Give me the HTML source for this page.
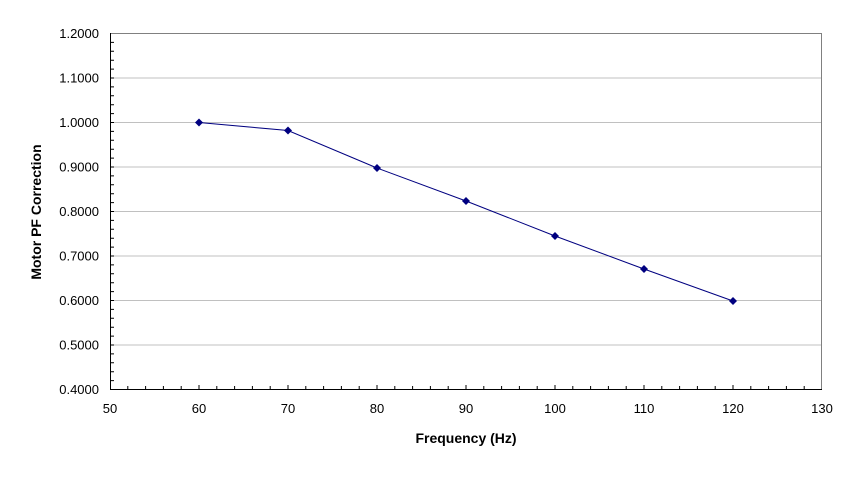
<!DOCTYPE html>
<html><head><meta charset="utf-8"><style>
body{margin:0;background:#fff}
text{font-family:"Liberation Sans",Arial,sans-serif;font-size:13px;fill:#000}
</style></head><body>
<svg width="857" height="478" xmlns="http://www.w3.org/2000/svg">
<g stroke="#c0c0c0" stroke-width="1">
<line x1="110" y1="33.5" x2="822" y2="33.5" stroke="#808080"/>
<line x1="110" y1="78" x2="822" y2="78"/>
<line x1="110" y1="122.5" x2="822" y2="122.5"/>
<line x1="110" y1="167" x2="822" y2="167"/>
<line x1="110" y1="211.5" x2="822" y2="211.5"/>
<line x1="110" y1="256" x2="822" y2="256"/>
<line x1="110" y1="300.5" x2="822" y2="300.5"/>
<line x1="110" y1="345" x2="822" y2="345"/>
<line x1="821.5" y1="33" x2="821.5" y2="389" stroke="#808080"/>
</g>
<g stroke="#000" stroke-width="1">
<line x1="110.5" y1="33" x2="110.5" y2="389.5"/>
<line x1="110" y1="389.5" x2="822" y2="389.5"/>
<path d="M110 42.4h4M110 51.3h4M110 60.2h4M110 69.1h4M110 78h4M110 86.9h4M110 95.8h4M110 104.7h4M110 113.6h4M110 122.5h4M110 131.4h4M110 140.3h4M110 149.2h4M110 158.1h4M110 167h4M110 175.9h4M110 184.8h4M110 193.7h4M110 202.6h4M110 211.5h4M110 220.4h4M110 229.3h4M110 238.2h4M110 247.1h4M110 256h4M110 264.9h4M110 273.8h4M110 282.7h4M110 291.6h4M110 300.5h4M110 309.4h4M110 318.3h4M110 327.2h4M110 336.1h4M110 345h4M110 353.9h4M110 362.8h4M110 371.7h4M110 380.6h4"/>
<path d="M127.8 389v-3M145.6 389v-3M163.4 389v-3M181.2 389v-3M199 389v-4M216.8 389v-3M234.6 389v-3M252.4 389v-3M270.2 389v-3M288 389v-4M305.8 389v-3M323.6 389v-3M341.4 389v-3M359.2 389v-3M377 389v-4M394.8 389v-3M412.6 389v-3M430.4 389v-3M448.2 389v-3M466 389v-4M483.8 389v-3M501.6 389v-3M519.4 389v-3M537.2 389v-3M555 389v-4M572.8 389v-3M590.6 389v-3M608.4 389v-3M626.2 389v-3M644 389v-4M661.8 389v-3M679.6 389v-3M697.4 389v-3M715.2 389v-3M733 389v-4M750.8 389v-3M768.6 389v-3M786.4 389v-3M804.2 389v-3"/>
</g>
<polyline fill="none" stroke="#000080" stroke-width="1" points="199,122.5 288,130.5 377,168 466,201 555,236 644,269 733,301"/>
<g fill="#000080">
<path d="M199 118.5l4 4-4 4-4-4z"/><path d="M288 126.5l4 4-4 4-4-4z"/><path d="M377 164l4 4-4 4-4-4z"/><path d="M466 197l4 4-4 4-4-4z"/><path d="M555 232l4 4-4 4-4-4z"/><path d="M644 265l4 4-4 4-4-4z"/><path d="M733 297l4 4-4 4-4-4z"/>
</g>
<g text-anchor="end">
<text x="99" y="38">1.2000</text><text x="99" y="82.5">1.1000</text><text x="99" y="127">1.0000</text><text x="99" y="171.5">0.9000</text><text x="99" y="216">0.8000</text><text x="99" y="260.5">0.7000</text><text x="99" y="305">0.6000</text><text x="99" y="349.5">0.5000</text><text x="99" y="394">0.4000</text>
</g>
<g text-anchor="middle">
<text x="110" y="413">50</text><text x="199" y="413">60</text><text x="288" y="413">70</text><text x="377" y="413">80</text><text x="466" y="413">90</text><text x="555" y="413">100</text><text x="644" y="413">110</text><text x="733" y="413">120</text><text x="822" y="413">130</text>
<text x="466" y="443" font-weight="bold" style="font-size:14px">Frequency (Hz)</text>
<text transform="translate(41,212) rotate(-90)" font-weight="bold" style="font-size:14px">Motor PF Correction</text>
</g>
</svg>
</body></html>
